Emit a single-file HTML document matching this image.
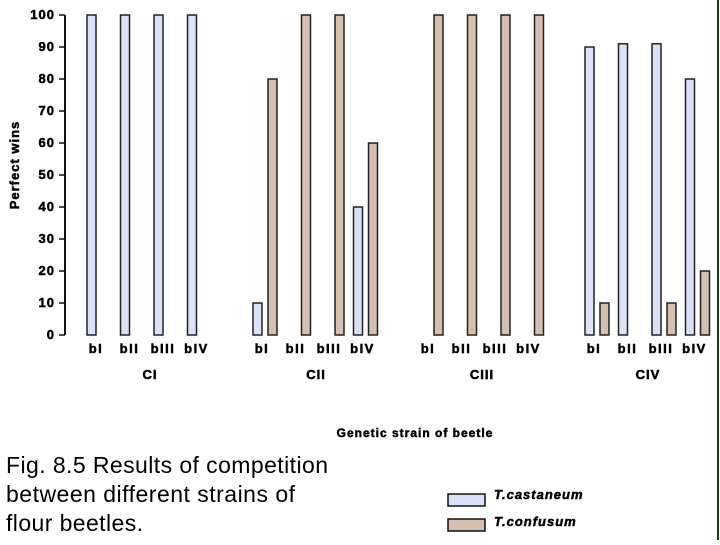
<!DOCTYPE html>
<html><head><meta charset="utf-8"><style>
body{margin:0;background:#fff;}
svg text{font-family:"Liberation Sans",sans-serif;}
.hv{stroke:#000;stroke-width:0.5;}
</style></head><body>
<svg id="chart" width="720" height="540" viewBox="0 0 720 540" xmlns="http://www.w3.org/2000/svg">
<line x1="718" y1="0" x2="718" y2="540" stroke="#1a3a1a" stroke-width="2"/>
<g id="axis"></g>
<g id="bars"></g>
<g id="labels"></g>
<text class="hv" x="19" y="165" transform="rotate(-90 19 165)" text-anchor="middle" font-size="13" font-weight="bold" letter-spacing="1">Perfect wins</text>
<text class="hv" x="415" y="437" text-anchor="middle" font-size="12" font-weight="bold" letter-spacing="1">Genetic strain of beetle</text>
<text x="6" y="473" font-size="23" textLength="322" lengthAdjust="spacing">Fig. 8.5 Results of competition</text>
<text x="6" y="502" font-size="23" textLength="289" lengthAdjust="spacing">between different strains of</text>
<text x="6" y="531" font-size="23" textLength="137" lengthAdjust="spacing">flour beetles.</text>
<rect x="448" y="494" width="37" height="12" fill="#d9e2f7" stroke="#111" stroke-width="1.5"/>
<text class="hv" x="494" y="499" font-size="13" font-weight="bold" font-style="italic" letter-spacing="1">T.castaneum</text>
<rect x="448" y="519" width="37" height="12" fill="#d4bfb0" stroke="#111" stroke-width="1.5"/>
<text class="hv" x="494" y="526" font-size="13" font-weight="bold" font-style="italic" letter-spacing="1">T.confusum</text>
</svg>
<script>
const groups = ["CI","CII","CIII","CIV"];
const strains = ["bI","bII","bIII","bIV"];
const castaneum = [[100,100,100,100],[10,null,null,40],[null,null,null,null],[90,91,91,80]];
const confusum = [[null,null,null,null],[80,100,100,60],[100,100,100,100],[10,null,10,20]];
const yTicks = [0,10,20,30,40,50,60,70,80,90,100];
const ns="http://www.w3.org/2000/svg";
const y0=335, pxPer=3.2;
function y(v){return y0 - v*pxPer;}
function gx(g,s){return 87 + g*166 + s*33.5;}
const axis=document.getElementById('axis'), bars=document.getElementById('bars'), labels=document.getElementById('labels');
function mk(t,a,p){const e=document.createElementNS(ns,t);for(const k in a)e.setAttribute(k,a[k]);p.appendChild(e);return e;}
let ax=mk('line',{x1:65,y1:y(100),x2:65,y2:y(0),stroke:'#111','stroke-width':2},axis);


yTicks.forEach(v=>{
  const t=mk('line',{x1:59,x2:65,y1:y(v),y2:y(v),stroke:'#111','stroke-width':1.5},axis);
  
  
  const l=mk('text',{x:55,y:y(v)+4,'text-anchor':'end','font-size':13,'font-weight':'bold','letter-spacing':1,'class':'hv'},axis);
  l.textContent=v;
  
  
});
function bar(v,x,fill,name){
  const r=mk('rect',{x:x,y:y(v),width:9,height:v*pxPer,fill:fill,stroke:'#222','stroke-width':1.5},bars);
  
  
}
groups.forEach((g,gi)=>{
  strains.forEach((s,si)=>{
    const bx=gx(gi,si);
    if(castaneum[gi][si]!=null) bar(castaneum[gi][si],bx,'#d9e2f7','bar-castaneum-'+g+'-'+s);
    if(confusum[gi][si]!=null) bar(confusum[gi][si],bx+15,'#d4bfb0','bar-confusum-'+g+'-'+s);
    const l=mk('text',{x:bx+9,y:353,'text-anchor':'middle','font-size':13,'font-weight':'bold','letter-spacing':1.5,'class':'hv'},labels);
    l.textContent=s;
    
    
  });
  const gl=mk('text',{x:gx(gi,0)+63,y:379,'text-anchor':'middle','font-size':13,'font-weight':'bold','letter-spacing':1,'class':'hv'},labels);
  gl.textContent=g;
  
  
});
</script>
</body></html>
